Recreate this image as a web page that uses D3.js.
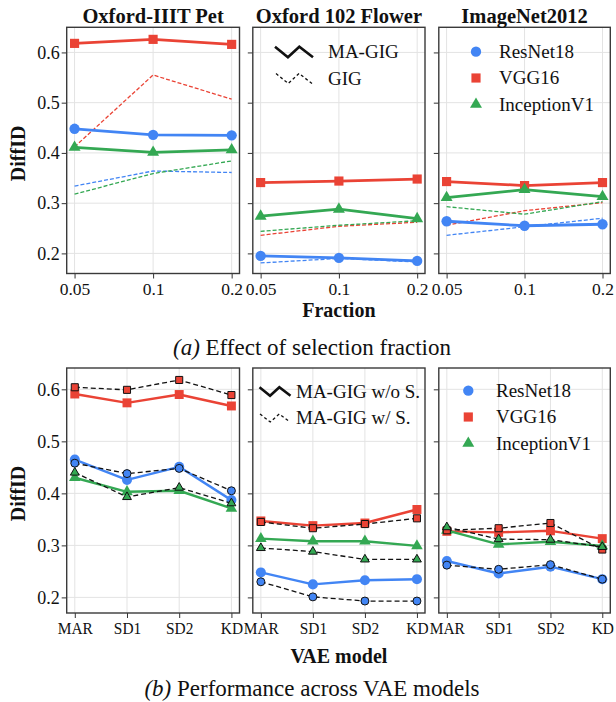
<!DOCTYPE html>
<html>
<head>
<meta charset="utf-8">
<script src="https://cdn.jsdelivr.net/npm/d3@7"></script>
<style>
  body { margin: 0; background: #fff; }
  text { font-family: "Liberation Serif", "Times New Roman", serif; fill: #111; }
</style>
</head>
<body>
<div id="main"></div>
<script>
// ---------------- data ----------------
const datasets = ["Oxford-IIIT Pet", "Oxford 102 Flower", "ImageNet2012"];
const models = ["ResNet18", "VGG16", "InceptionV1"];
const fractions = ["0.05", "0.1", "0.2"];
const vaeModels = ["MAR", "SD1", "SD2", "KD"];
const yTicks = [0.2, 0.3, 0.4, 0.5, 0.6];

// (a) MA-GIG (solid) per dataset, per model [ResNet18, VGG16, InceptionV1]
const maGig = [
  [[0.448, 0.436, 0.435], [0.618, 0.626, 0.616], [0.411, 0.401, 0.406]],
  [[0.195, 0.191, 0.185], [0.341, 0.344, 0.348], [0.274, 0.288, 0.269]],
  [[0.264, 0.255, 0.258], [0.343, 0.335, 0.341], [0.311, 0.327, 0.313]]
];
// (a) GIG (dashed)
const gig = [
  [[0.334, 0.364, 0.361], [0.412, 0.555, 0.507], [0.318, 0.359, 0.384]],
  [[0.181, 0.190, 0.183], [0.236, 0.254, 0.262], [0.244, 0.256, 0.265]],
  [[0.236, 0.253, 0.270], [0.256, 0.285, 0.301], [0.293, 0.278, 0.303]]
];
// (b) MA-GIG w/o S. (solid)
const woSel = [
  [[0.465, 0.426, 0.451, 0.387], [0.591, 0.574, 0.590, 0.568], [0.430, 0.403, 0.405, 0.371]],
  [[0.248, 0.225, 0.233, 0.235], [0.347, 0.338, 0.343, 0.369], [0.313, 0.308, 0.308, 0.299]],
  [[0.270, 0.246, 0.259, 0.235], [0.327, 0.325, 0.328, 0.313], [0.329, 0.302, 0.307, 0.299]]
];
// (b) MA-GIG w/ S. (dashed, black-edged markers)
const wSel = [
  [[0.458, 0.438, 0.448, 0.405], [0.604, 0.599, 0.618, 0.589], [0.440, 0.393, 0.411, 0.381]],
  [[0.230, 0.201, 0.193, 0.193], [0.345, 0.333, 0.341, 0.352], [0.295, 0.288, 0.273, 0.273]],
  [[0.262, 0.254, 0.263, 0.235], [0.329, 0.333, 0.343, 0.292], [0.335, 0.312, 0.311, 0.297]]
];

const colors = ["#4285F4", "#EA4335", "#34A853"];
const symbols = [d3.symbolCircle, d3.symbolSquare, d3.symbolTriangle];

// ---------------- layout ----------------
const width = 616, height = 702;
const cols = [[66.7, 239.5], [252.8, 425], [438.8, 610.3]];
const rowA = { y0: 27.3, y1: 273.5, domain: [0.16, 0.65], squeeze: 1 };
const rowB = { y0: 368, y1: 613, domain: [0.17, 0.641], squeeze: 0.88 };

const svg = d3.select("#main").append("svg")
  .attr("width", width).attr("height", height);

function panel(ci, row, cats, pad) {
  const [x0, x1] = cols[ci];
  const x = d3.scalePoint().domain(cats).range([x0, x1]).padding(pad);
  const y = d3.scaleLinear().domain(row.domain).range([row.y1, row.y0]);
  const g = svg.append("g");

  // grid
  g.selectAll(".gy").data(yTicks).join("line")
    .attr("x1", x0).attr("x2", x1)
    .attr("y1", d => y(d)).attr("y2", d => y(d))
    .attr("stroke", "#e3e3e3").attr("stroke-width", 1);
  g.selectAll(".gx").data(cats).join("line")
    .attr("x1", d => x(d)).attr("x2", d => x(d))
    .attr("y1", row.y0).attr("y2", row.y1)
    .attr("stroke", "#e3e3e3").attr("stroke-width", 1);

  // axes
  const ya = g.append("g").attr("transform", `translate(${x0},0)`)
    .call(d3.axisLeft(y).tickValues(yTicks).tickSize(5).tickSizeOuter(0)
      .tickFormat(ci === 0 ? d3.format(".1f") : () => ""));
  ya.select(".domain").remove();
  ya.selectAll("text").style("font-size", "18px").attr("x", -7)
    .style("font-family", "Liberation Serif");
  ya.selectAll("line").attr("stroke", "#333");

  const xa = g.append("g").attr("transform", `translate(0,${row.y1})`)
    .call(d3.axisBottom(x).tickSize(5).tickSizeOuter(0).tickPadding(4));
  xa.select(".domain").remove();
  xa.selectAll("text").style("font-size", "17.5px").style("font-family", "Liberation Serif")
    .attr("transform", `scale(${row.squeeze},1)`);
  xa.selectAll("line").attr("stroke", "#333");

  // frame
  g.append("rect").attr("x", x0).attr("y", row.y0)
    .attr("width", x1 - x0).attr("height", row.y1 - row.y0)
    .attr("fill", "none").attr("stroke", "#3a3a3a").attr("stroke-width", 1.4);

  return { g, x, y };
}

const line = (x, y, cats) => d3.line().x((d, i) => x(cats[i])).y(d => y(d));

// ---------------- (a) ----------------
datasets.forEach((name, ci) => {
  const { g, x, y } = panel(ci, rowA, fractions, 0.1);
  const ln = line(x, y, fractions);
  const lay = g.append("g");
  models.forEach((m, mi) => {
    lay.append("path").attr("d", ln(gig[ci][mi]))
      .attr("fill", "none").attr("stroke", colors[mi])
      .attr("stroke-width", 1.3).attr("stroke-dasharray", "4,2");
  });
  models.forEach((m, mi) => {
    lay.append("path").attr("d", ln(maGig[ci][mi]))
      .attr("fill", "none").attr("stroke", colors[mi])
      .attr("stroke-width", 2.8).attr("stroke-linejoin", "round");
    lay.selectAll(null).data(maGig[ci][mi]).join("path")
      .attr("transform", (d, i) => `translate(${x(fractions[i])},${y(d)})`)
      .attr("d", d3.symbol(symbols[mi], mi === 2 ? 62 : 84))
      .attr("fill", colors[mi]);
  });

  svg.append("text").attr("x", (cols[ci][0] + cols[ci][1]) / 2).attr("y", 23)
    .attr("text-anchor", "middle").style("font-size", "20.5px").style("font-weight", "bold")
    .text(name);
});

// ---------------- (b) ----------------
datasets.forEach((name, ci) => {
  const { g, x, y } = panel(ci, rowB, vaeModels, 0.155);
  const ln = line(x, y, vaeModels);
  models.forEach((m, mi) => {
    g.append("path").attr("d", ln(woSel[ci][mi]))
      .attr("fill", "none").attr("stroke", colors[mi])
      .attr("stroke-width", 2.4).attr("stroke-linejoin", "round");
    g.selectAll(null).data(woSel[ci][mi]).join("path")
      .attr("transform", (d, i) => `translate(${x(vaeModels[i])},${y(d)})`)
      .attr("d", d3.symbol(symbols[mi], mi === 2 ? 58 : 80))
      .attr("fill", colors[mi]);
  });
  models.forEach((m, mi) => {
    g.append("path").attr("d", ln(wSel[ci][mi]))
      .attr("fill", "none").attr("stroke", "#111")
      .attr("stroke-width", 1.3).attr("stroke-dasharray", "5,3");
    g.selectAll(null).data(wSel[ci][mi]).join("path")
      .attr("transform", (d, i) => `translate(${x(vaeModels[i])},${y(d)})`)
      .attr("d", d3.symbol(symbols[mi], mi === 2 ? 34 : 50))
      .attr("fill", colors[mi]).attr("stroke", "#111").attr("stroke-width", 1);
  });
});

// ---------------- legends ----------------
function zigzag(x0, yc, w, h, dashed, sw) {
  const pts = [[0, -h / 2], [0.34, h / 2], [0.64, -h / 2], [1, h / 2]]
    .map(p => [x0 + p[0] * w, yc + p[1]]);
  svg.append("path").attr("d", d3.line()(pts))
    .attr("fill", "none").attr("stroke", "#111").attr("stroke-width", sw)
    .attr("stroke-dasharray", dashed ? "3,2.5" : null);
}
function legText(x, y, t) {
  svg.append("text").attr("x", x).attr("y", y).attr("dy", "0.33em")
    .style("font-size", "19px").text(t);
}

// (a) line styles
zigzag(275, 52, 38, 10.5, false, 2.6);
legText(328, 52, "MA-GIG");
zigzag(276, 78.5, 36, 10, true, 1.3);
legText(328, 78.5, "GIG");
// (b) line styles
zigzag(259.5, 391.5, 31, 8.5, false, 2.6);
legText(296, 391.5, "MA-GIG w/o S.");
zigzag(260, 418, 30, 8, true, 1.3);
legText(296, 418, "MA-GIG w/ S.");

// model legends
[[476, 51.7, 499], [468.3, 390.7, 496]].forEach(([mx, my, tx]) => {
  models.forEach((m, mi) => {
    const yy = my + mi * 26.3;
    svg.append("path").attr("transform", `translate(${mx},${yy})`)
      .attr("d", d3.symbol(symbols[mi], mi === 2 ? 62 : 84)).attr("fill", colors[mi]);
    legText(tx, yy, m);
  });
});

// ---------------- axis labels & captions ----------------
const midX = (cols[1][0] + cols[1][1]) / 2;
svg.append("text").attr("x", midX).attr("y", 317).attr("text-anchor", "middle")
  .style("font-size", "20px").style("font-weight", "bold").text("Fraction");
svg.append("text").attr("x", midX).attr("y", 663).attr("text-anchor", "middle")
  .style("font-size", "20px").style("font-weight", "bold").text("VAE model");

[[rowA], [rowB]].forEach(([row]) => {
  const cy = (row.y0 + row.y1) / 2 + 3;
  svg.append("text").attr("transform", `translate(25,${cy}) rotate(-90)`)
    .attr("text-anchor", "middle").style("font-size", "20px").style("font-weight", "bold")
    .text("DiffID");
});

function caption(y, label, rest) {
  const t = svg.append("text").attr("x", 312).attr("y", y).attr("text-anchor", "middle")
    .style("font-size", "23px");
  t.append("tspan").style("font-style", "italic").text(label);
  t.append("tspan").text(" " + rest);
}
caption(355, "(a)", "Effect of selection fraction");
caption(696, "(b)", "Performance across VAE models");
</script>
</body>
</html>
